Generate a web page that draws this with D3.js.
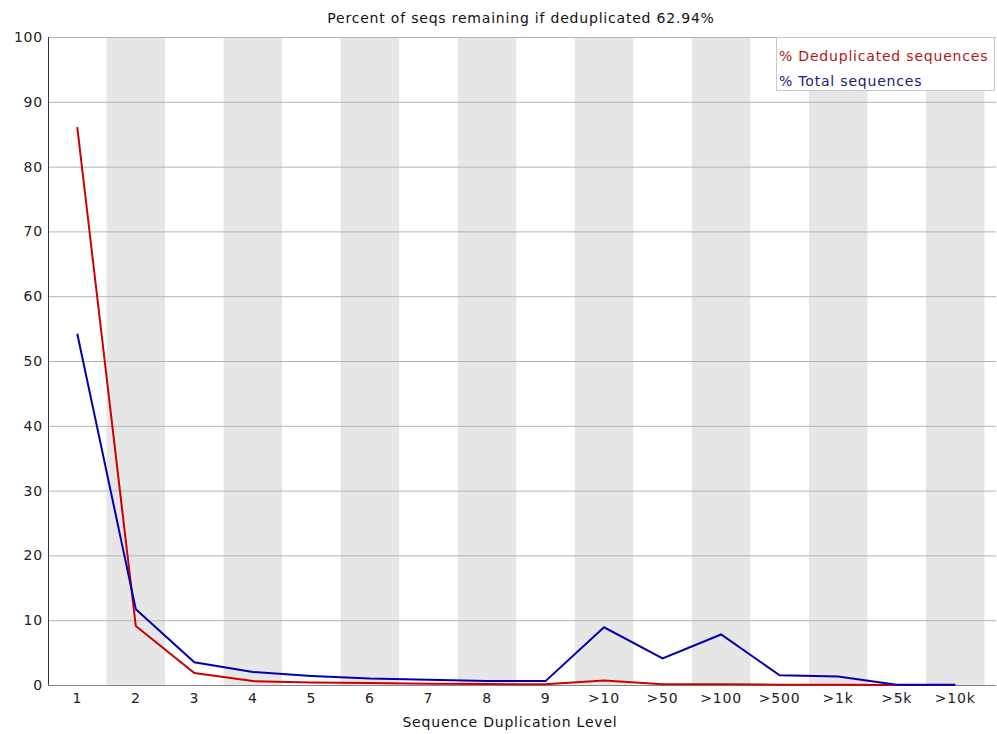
<!DOCTYPE html>
<html>
<head>
<meta charset="utf-8">
<script src="https://cdn.jsdelivr.net/npm/d3@7"></script>
<style>
  body { margin: 0; background: #fff; }
  svg { font-family: "DejaVu Sans", sans-serif; letter-spacing: 0.8px; }
</style>
</head>
<body>
<script>
// duplication levels and the two series (percent)
var levels = ['1', '2', '3', '4', '5', '6', '7', '8', '9', '>10', '>50', '>100', '>500', '>1k', '>5k', '>10k'];
var dedup = [86.1, 9.1, 1.85, 0.6, 0.4, 0.3, 0.2, 0.15, 0.1, 0.7, 0.1, 0.1, 0.05, 0.02, 0, 0];
var total = [54.2, 11.7, 3.5, 2.0, 1.4, 1.0, 0.8, 0.6, 0.6, 8.9, 4.1, 7.8, 1.5, 1.3, 0.05, 0.05];
var yTicks = [0, 10, 20, 30, 40, 50, 60, 70, 80, 90, 100];
var title = 'Percent of seqs remaining if deduplicated 62.94%';

var w = 997;
var h = 734;
var padL = 48, padT = 37, padB = 685, padR = 996;

var svg = d3.select('body')
            .append('svg')
            .attr('width', w)
            .attr('height', h);

var xScale = d3.scaleBand()
               .domain(levels)
               .range([padL, 984.5]);
var yScale = d3.scaleLinear()
               .domain([0, 100])
               .range([padB, padT]);

// alternating grey bands
svg.selectAll('rect.band')
   .data(levels.filter(function(d, i) { return i % 2 == 1; }))
   .enter()
   .append('rect')
   .attr('x', function(d) { return xScale(d); })
   .attr('y', padT)
   .attr('width', xScale.bandwidth())
   .attr('height', padB - padT)
   .attr('fill', '#e6e6e6');

// horizontal grid
svg.selectAll('line.grid')
   .data(yTicks)
   .enter()
   .append('line')
   .attr('x1', padL)
   .attr('x2', padR)
   .attr('y1', function(d) { return yScale(d) + 0.5; })
   .attr('y2', function(d) { return yScale(d) + 0.5; })
   .attr('stroke', '#b4b4b4')
   .attr('stroke-width', 1);

// y labels
svg.selectAll('text.ylab')
   .data(yTicks)
   .enter()
   .append('text')
   .attr('x', 43)
   .attr('y', function(d) { return yScale(d) + 5; })
   .attr('text-anchor', 'end')
   .attr('font-size', 14)
   .attr('fill', '#222')
   .text(function(d) { return d; });

// x labels
svg.selectAll('text.xlab')
   .data(levels)
   .enter()
   .append('text')
   .attr('x', function(d) { return xScale(d) + xScale.bandwidth() / 2; })
   .attr('y', 703)
   .attr('text-anchor', 'middle')
   .attr('font-size', 14)
   .attr('fill', '#222')
   .text(function(d) { return d; });

// axes lines
svg.append('line')
   .attr('x1', padL + 0.5).attr('x2', padL + 0.5)
   .attr('y1', padT).attr('y2', padB)
   .attr('stroke', '#333');
svg.append('line')
   .attr('x1', padL).attr('x2', padR)
   .attr('y1', padB + 0.5).attr('y2', padB + 0.5)
   .attr('stroke', '#888');

var line = d3.line()
             .x(function(d, i) { return xScale(levels[i]) + xScale.bandwidth() / 2; })
             .y(function(d) { return yScale(d); });

svg.append('path')
   .attr('d', line(dedup))
   .attr('fill', 'none')
   .attr('stroke', '#cc0000')
   .attr('stroke-width', 2);
svg.append('path')
   .attr('d', line(total))
   .attr('fill', 'none')
   .attr('stroke', '#0000b0')
   .attr('stroke-width', 2);

// title and axis label
svg.append('text')
   .attr('x', 521).attr('y', 23)
   .attr('text-anchor', 'middle')
   .attr('font-size', 14)
   .attr('fill', '#111')
   .text(title);
svg.append('text')
   .attr('x', 510).attr('y', 727)
   .attr('text-anchor', 'middle')
   .attr('font-size', 14)
   .attr('fill', '#111')
   .text('Sequence Duplication Level');

// legend
svg.append('rect')
   .attr('x', 776.5).attr('y', padT + 0.5)
   .attr('width', 218).attr('height', 53)
   .attr('fill', '#fff')
   .attr('stroke', '#c8c8c8');
svg.append('text')
   .attr('x', 779).attr('y', 61)
   .attr('font-size', 14)
   .attr('fill', '#b01818')
   .text('% Deduplicated sequences');
svg.append('text')
   .attr('x', 779).attr('y', 86)
   .attr('font-size', 14)
   .attr('fill', '#1a1a80')
   .text('% Total sequences');
</script>
</body>
</html>
